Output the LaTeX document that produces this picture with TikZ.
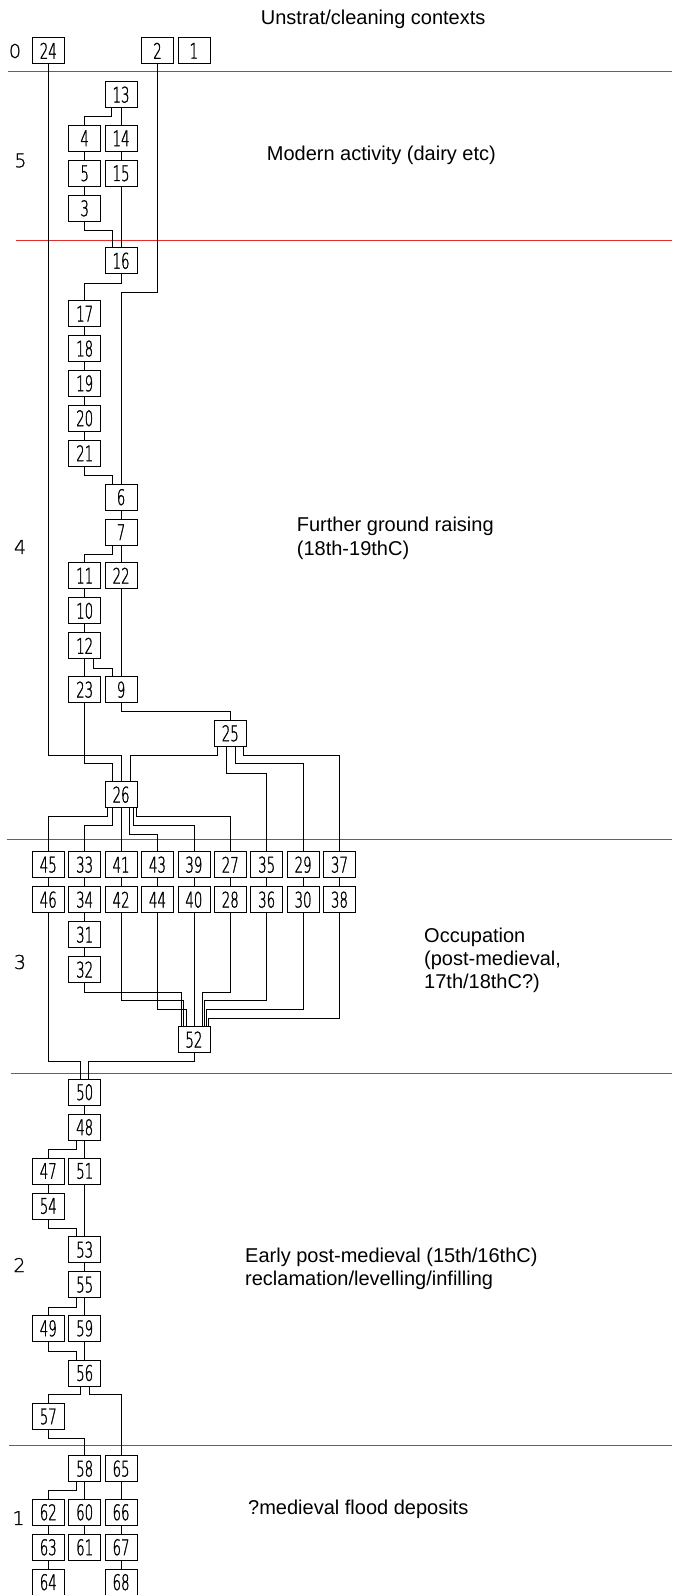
\documentclass[tikz,border=0pt]{standalone}
\usepackage{fontspec}
\setmainfont{Liberation Sans}
\IfFontExistsTF{DejaVu Sans ExtraLight}{%
  \newfontfamily\cadfont[FakeStretch=0.62,FakeBold=1.2]{DejaVu Sans ExtraLight}%
  \newfontfamily\phfont[FakeBold=1]{DejaVu Sans ExtraLight}}{%
  \newfontfamily\cadfont[FakeStretch=0.62]{DejaVu Sans}%
  \newfontfamily\phfont{DejaVu Sans}}
\definecolor{phasered}{RGB}{225,45,45}
\begin{document}
\begin{tikzpicture}[x=1pt,y=-1pt,
  ctx/.style={draw,line width=0.8pt,minimum width=32pt,minimum height=26pt,inner sep=0pt,
              font=\cadfont\fontsize{21.5}{21.5}\selectfont},
  link/.style={line width=0.8pt},
  phaseline/.style={draw=phasered,line width=0.8pt},
  phnum/.style={font=\phfont\fontsize{19}{19}\selectfont},
  desc/.style={anchor=base west,inner sep=0pt,font=\fontsize{20}{20}\selectfont}]
\useasboundingbox (0,0) rectangle (672,1595);
\def\cA{48.3}\def\cB{84.7}\def\cC{121.1}\def\cD{157.5}\def\cE{193.9}
\def\cF{230.3}\def\cG{266.7}\def\cH{303.1}\def\cI{339.5}
% phase dividers
\coordinate (p0a) at (8,71);      \coordinate (p0b) at (672,71);
\coordinate (p5a) at (16,240.7);  \coordinate (p5b) at (672,240.7);
\coordinate (p4a) at (6.7,839.3); \coordinate (p4b) at (672,839.3);
\coordinate (p3a) at (11,1073.3); \coordinate (p3b) at (672,1073.3);
\coordinate (p2a) at (9,1445);    \coordinate (p2b) at (672,1445);
\foreach \p in {0,5,4,3,2} \draw[phaseline] (p\p a) -- (p\p b);
% phase numbers
\node[phnum] (ph0) at (15,51) {0};
\node[phnum] (ph5) at (20.5,160.5) {5};
\node[phnum] (ph4) at (20,547) {4};
\node[phnum] (ph3) at (20,962) {3};
\node[phnum] (ph2) at (19.5,1265) {2};
\node[phnum] (ph1) at (18.5,1518) {1};
% descriptions
\node[desc] (d0) at (260.7,25) {Unstrat/cleaning contexts};
\node[desc] (d5) at (266.7,160) {Modern activity (dairy etc)};
\node[desc] (d4a) at (296.7,531.7) {Further ground raising};
\node[desc] (d4b) at (296.7,555) {(18th-19thC)};
\node[desc] (d3a) at (424,942) {Occupation};
\node[desc] (d3b) at (424,965.4) {(post-medieval,};
\node[desc] (d3c) at (424,988.8) {17th/18thC?)};
\node[desc] (d2a) at (245,1262) {Early post-medieval (15th/16thC)};
\node[desc] (d2b) at (245,1285.4) {reclamation/levelling/infilling};
\node[desc] (d1) at (248,1514) {?medieval flood deposits};
% contexts
\node[ctx] (n24) at (\cA,50.8) {24};
\node[ctx] (n2) at (\cD,50.8) {2};
\node[ctx] (n1) at (\cE,50.8) {1};
\node[ctx] (n13) at (\cC,94.7) {13};
\node[ctx] (n4) at (\cB,138.3) {4};
\node[ctx] (n14) at (\cC,138.3) {14};
\node[ctx] (n5) at (\cB,173.3) {5};
\node[ctx] (n15) at (\cC,173.3) {15};
\node[ctx] (n3) at (\cB,208.3) {3};
\node[ctx] (n16) at (\cC,260.8) {16};
\node[ctx] (n17) at (\cB,313.7) {17};
\node[ctx] (n18) at (\cB,348.6) {18};
\node[ctx] (n19) at (\cB,383.4) {19};
\node[ctx] (n20) at (\cB,418.3) {20};
\node[ctx] (n21) at (\cB,453.2) {21};
\node[ctx] (n6) at (\cC,497.2) {6};
\node[ctx] (n7) at (\cC,532.2) {7};
\node[ctx] (n11) at (\cB,575.7) {11};
\node[ctx] (n22) at (\cC,575.7) {22};
\node[ctx] (n10) at (\cB,610.8) {10};
\node[ctx] (n12) at (\cB,645.8) {12};
\node[ctx] (n23) at (\cB,689.7) {23};
\node[ctx] (n9) at (\cC,689.7) {9};
\node[ctx] (n25) at (\cF,733.3) {25};
\node[ctx] (n26) at (\cC,794.7) {26};
\foreach \a/\b/\c in {45/46/\cA,33/34/\cB,41/42/\cC,43/44/\cD,39/40/\cE,27/28/\cF,35/36/\cG,29/30/\cH,37/38/\cI}{
  \node[ctx] (n\a) at (\c,864.7) {\a};
  \node[ctx] (n\b) at (\c,899.7) {\b};
  \draw[link] (n\a.south) -- (n\b.north);
}
\node[ctx] (n31) at (\cB,934.7) {31};
\node[ctx] (n32) at (\cB,969.7) {32};
\node[ctx] (n52) at (\cE,1039.7) {52};
\node[ctx] (n50) at (\cB,1092.2) {50};
\node[ctx] (n48) at (\cB,1127.3) {48};
\node[ctx] (n47) at (\cA,1171) {47};
\node[ctx] (n51) at (\cB,1171) {51};
\node[ctx] (n54) at (\cA,1206) {54};
\node[ctx] (n53) at (\cB,1249.7) {53};
\node[ctx] (n55) at (\cB,1284.7) {55};
\node[ctx] (n49) at (\cA,1328.3) {49};
\node[ctx] (n59) at (\cB,1328.3) {59};
\node[ctx] (n56) at (\cB,1373) {56};
\node[ctx] (n57) at (\cA,1416.5) {57};
\node[ctx] (n58) at (\cB,1468.7) {58};
\node[ctx] (n65) at (\cC,1468.7) {65};
\node[ctx] (n62) at (\cA,1512.3) {62};
\node[ctx] (n60) at (\cB,1512.3) {60};
\node[ctx] (n66) at (\cC,1512.3) {66};
\node[ctx] (n63) at (\cA,1547.3) {63};
\node[ctx] (n61) at (\cB,1547.3) {61};
\node[ctx] (n67) at (\cC,1547.3) {67};
\node[ctx] (n64) at (\cA,1582.2) {64};
\node[ctx] (n68) at (\cC,1582.2) {68};
% straight links
\foreach \a/\b in {13/14,14/15,15/16,4/5,5/3,17/18,18/19,19/20,20/21,6/7,7/22,11/10,10/12,12/23,22/9,
                   26/41,34/31,31/32,40/52,50/48,48/51,51/53,47/54,53/55,55/59,59/56,
                   58/60,60/61,62/63,63/64,65/66,66/67,67/68}
  \draw[link] (n\a.south) -- (n\b.north);
% elbow links
\draw[link] ([xshift=-9.7pt]n13.south) -- ++(0,8.3) -| (n4.north);
\draw[link] (n3.south) -- ++(0,8.7) -| ([xshift=-8.7pt]n16.north);
\draw[link] (n16.south) -- ++(0,8.9) -| (n17.north);
\draw[link] (n2.south) -- ++(0,227.9) -| (n6.north);
\draw[link] (n21.south) -- ++(0,8.8) -| ([xshift=-8.7pt]n6.north);
\draw[link] ([xshift=-8.7pt]n7.south) -- ++(0,9.1) -| (n11.north);
\draw[link] ([xshift=8.7pt]n12.south) -- ++(0,8.9) -| ([xshift=-8.7pt]n9.north);
\draw[link] (n9.south) -- ++(0,8.3) -| (n25.north);
\draw[link] (n23.south) -- ++(0,60.6) -| ([xshift=-8.7pt]n26.north);
\draw[link] (n24.south) -- ++(0,691.2) -| (n26.north);
\draw[link] ([xshift=-13pt]n25.south) -- ++(0,8.7) -| ([xshift=9pt]n26.north);
\draw[link] ([xshift=-3.8pt]n25.south) -- ++(0,26.4) -| (n35.north);
\draw[link] ([xshift=4.6pt]n25.south) -- ++(0,17) -| (n29.north);
\draw[link] ([xshift=13pt]n25.south) -- ++(0,8.7) -| (n37.north);
\draw[link] ([xshift=-13.3pt]n26.south) -- ++(0,8.6) -| (n45.north);
\draw[link] ([xshift=-9pt]n26.south) -- ++(0,17.6) -| (n33.north);
\draw[link] ([xshift=8.5pt]n26.south) -- ++(0,26.3) -| (n43.north);
\draw[link] ([xshift=11.8pt]n26.south) -- ++(0,17.6) -| (n39.north);
\draw[link] ([xshift=15pt]n26.south) -- ++(0,8.6) -| (n27.north);
\draw[link] (n32.south) -- ++(0,9) -| ([xshift=-13pt]n52.north);
\draw[link] (n42.south) -- ++(0,87.6) -| ([xshift=-10.5pt]n52.north);
\draw[link] (n44.south) -- ++(0,96.6) -| ([xshift=-8pt]n52.north);
\draw[link] (n28.south) -- ++(0,79) -| ([xshift=8.8pt]n52.north);
\draw[link] (n36.south) -- ++(0,87.6) -| ([xshift=10.8pt]n52.north);
\draw[link] (n30.south) -- ++(0,96.6) -| ([xshift=12.9pt]n52.north);
\draw[link] (n38.south) -- ++(0,105) -| ([xshift=14.8pt]n52.north);
\draw[link] (n52.south) -- ++(0,8) -| ([xshift=4pt]n50.north);
\draw[link] (n46.south) -- ++(0,148) -| ([xshift=-4.4pt]n50.north);
\draw[link] ([xshift=-8.5pt]n48.south) -- ++(0,8.7) -| (n47.north);
\draw[link] (n54.south) -- ++(0,8.7) -| ([xshift=-8.5pt]n53.north);
\draw[link] ([xshift=-8.5pt]n55.south) -- ++(0,9) -| (n49.north);
\draw[link] (n49.south) -- ++(0,9.4) -| ([xshift=-8.5pt]n56.north);
\draw[link] ([xshift=-4.4pt]n56.south) -- ++(0,8.3) -| (n57.north);
\draw[link] ([xshift=4.4pt]n56.south) -- ++(0,8.3) -| (n65.north);
\draw[link] (n57.south) -- ++(0,8.2) -| (n58.north);
\draw[link] ([xshift=-8.5pt]n58.south) -- ++(0,8.3) -| (n62.north);
\end{tikzpicture}
\end{document}
